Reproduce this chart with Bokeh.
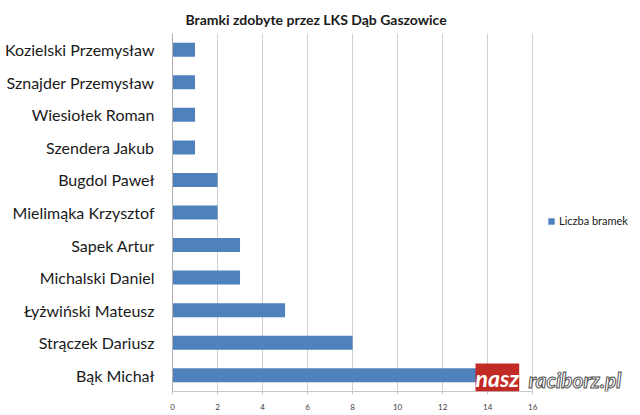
from bokeh.plotting import figure
from bokeh.models import FactorRange, Range1d, Label, Legend, LegendItem, FixedTicker
from bokeh.embed import file_html
from bokeh.resources import INLINE

players = ["Kozielski Przemysław", "Sznajder Przemysław", "Wiesiołek Roman", "Szendera Jakub",
           "Bugdol Paweł", "Mielimąka Krzysztof", "Sapek Artur", "Michalski Daniel",
           "Łyżwiński Mateusz", "Strączek Dariusz", "Bąk Michał"]
goals = [1, 1, 1, 1, 2, 2, 3, 3, 5, 8, 14]
x_ticks = [0, 2, 4, 6, 8, 10, 12, 14, 16]
title_text = "Bramki zdobyte przez LKS Dąb Gaszowice"
series_name = "Liczba bramek"

FONT = "Lato"
BAR = "#4F81BD"

# frame extends right of 16 to host the legend (axis/grid bounded to 0..16)
p = figure(width=640, height=415, output_backend="svg", toolbar_location=None,
           y_range=FactorRange(factors=list(reversed(players))),
           x_range=Range1d(0, 20.7),
           min_border_left=172, min_border_right=2, min_border_top=33, min_border_bottom=24,
           title=title_text)
p.outline_line_color = None
p.background_fill_color = "white"

p.title.text_font = FONT
p.title.text_font_size = "14px"
p.title.text_font_style = "bold"
p.title.text_color = "#1a1a1a"
p.title.align = "left"
p.title.offset = 13
p.title.vertical_align = "middle"

r = p.hbar(y=players, right=goals, left=0, height=0.43, fill_color=BAR, line_color=None)

p.xaxis.ticker = FixedTicker(ticks=x_ticks)
p.xaxis.bounds = (0, 16)
p.xaxis.major_label_text_font = FONT
p.xaxis.major_label_text_font_size = "8px"
p.xaxis.major_label_text_color = "#404040"
p.xaxis.major_label_standoff = 9
p.xaxis.major_tick_line_color = "#c8c8c8"
p.xaxis.major_tick_in = 0
p.xaxis.major_tick_out = 3
p.xaxis.minor_tick_line_color = None
p.xaxis.axis_line_color = "#c8c8c8"

p.yaxis.major_label_text_font = FONT
p.yaxis.major_label_text_font_size = "16px"
p.yaxis.major_label_text_color = "#1a1a1a"
p.yaxis.major_label_standoff = 12
p.yaxis.major_tick_line_color = None
p.yaxis.minor_tick_line_color = None
p.yaxis.axis_line_color = "#b0b0b0"

p.xgrid.grid_line_color = "#d0d0d0"
p.ygrid.grid_line_color = None

legend = Legend(items=[LegendItem(label=series_name, renderers=[r])],
                location=(375, 164), glyph_width=8, glyph_height=8,
                label_text_font=FONT, label_text_font_size="11px", label_text_color="#1a1a1a",
                label_height=12, padding=0, margin=0, spacing=0, label_standoff=4,
                border_line_color=None, background_fill_alpha=0)
p.add_layout(legend)

p.add_layout(Label(x=303, y=0, x_units="screen", y_units="screen", text="nasz",
                   text_font=FONT, text_font_size="23px", text_font_style="bold italic",
                   text_color="white", background_fill_color="#c22a25",
                   text_align="left", text_baseline="bottom"))
p.add_layout(Label(x=356, y=0, x_units="screen", y_units="screen", text="raciborz.pl",
                   text_font=FONT, text_font_size="21px", text_font_style="bold italic",
                   text_color="white", text_outline_color="#505050",
                   text_align="left", text_baseline="bottom"))

open("out.html", "w").write(file_html(p, INLINE))
